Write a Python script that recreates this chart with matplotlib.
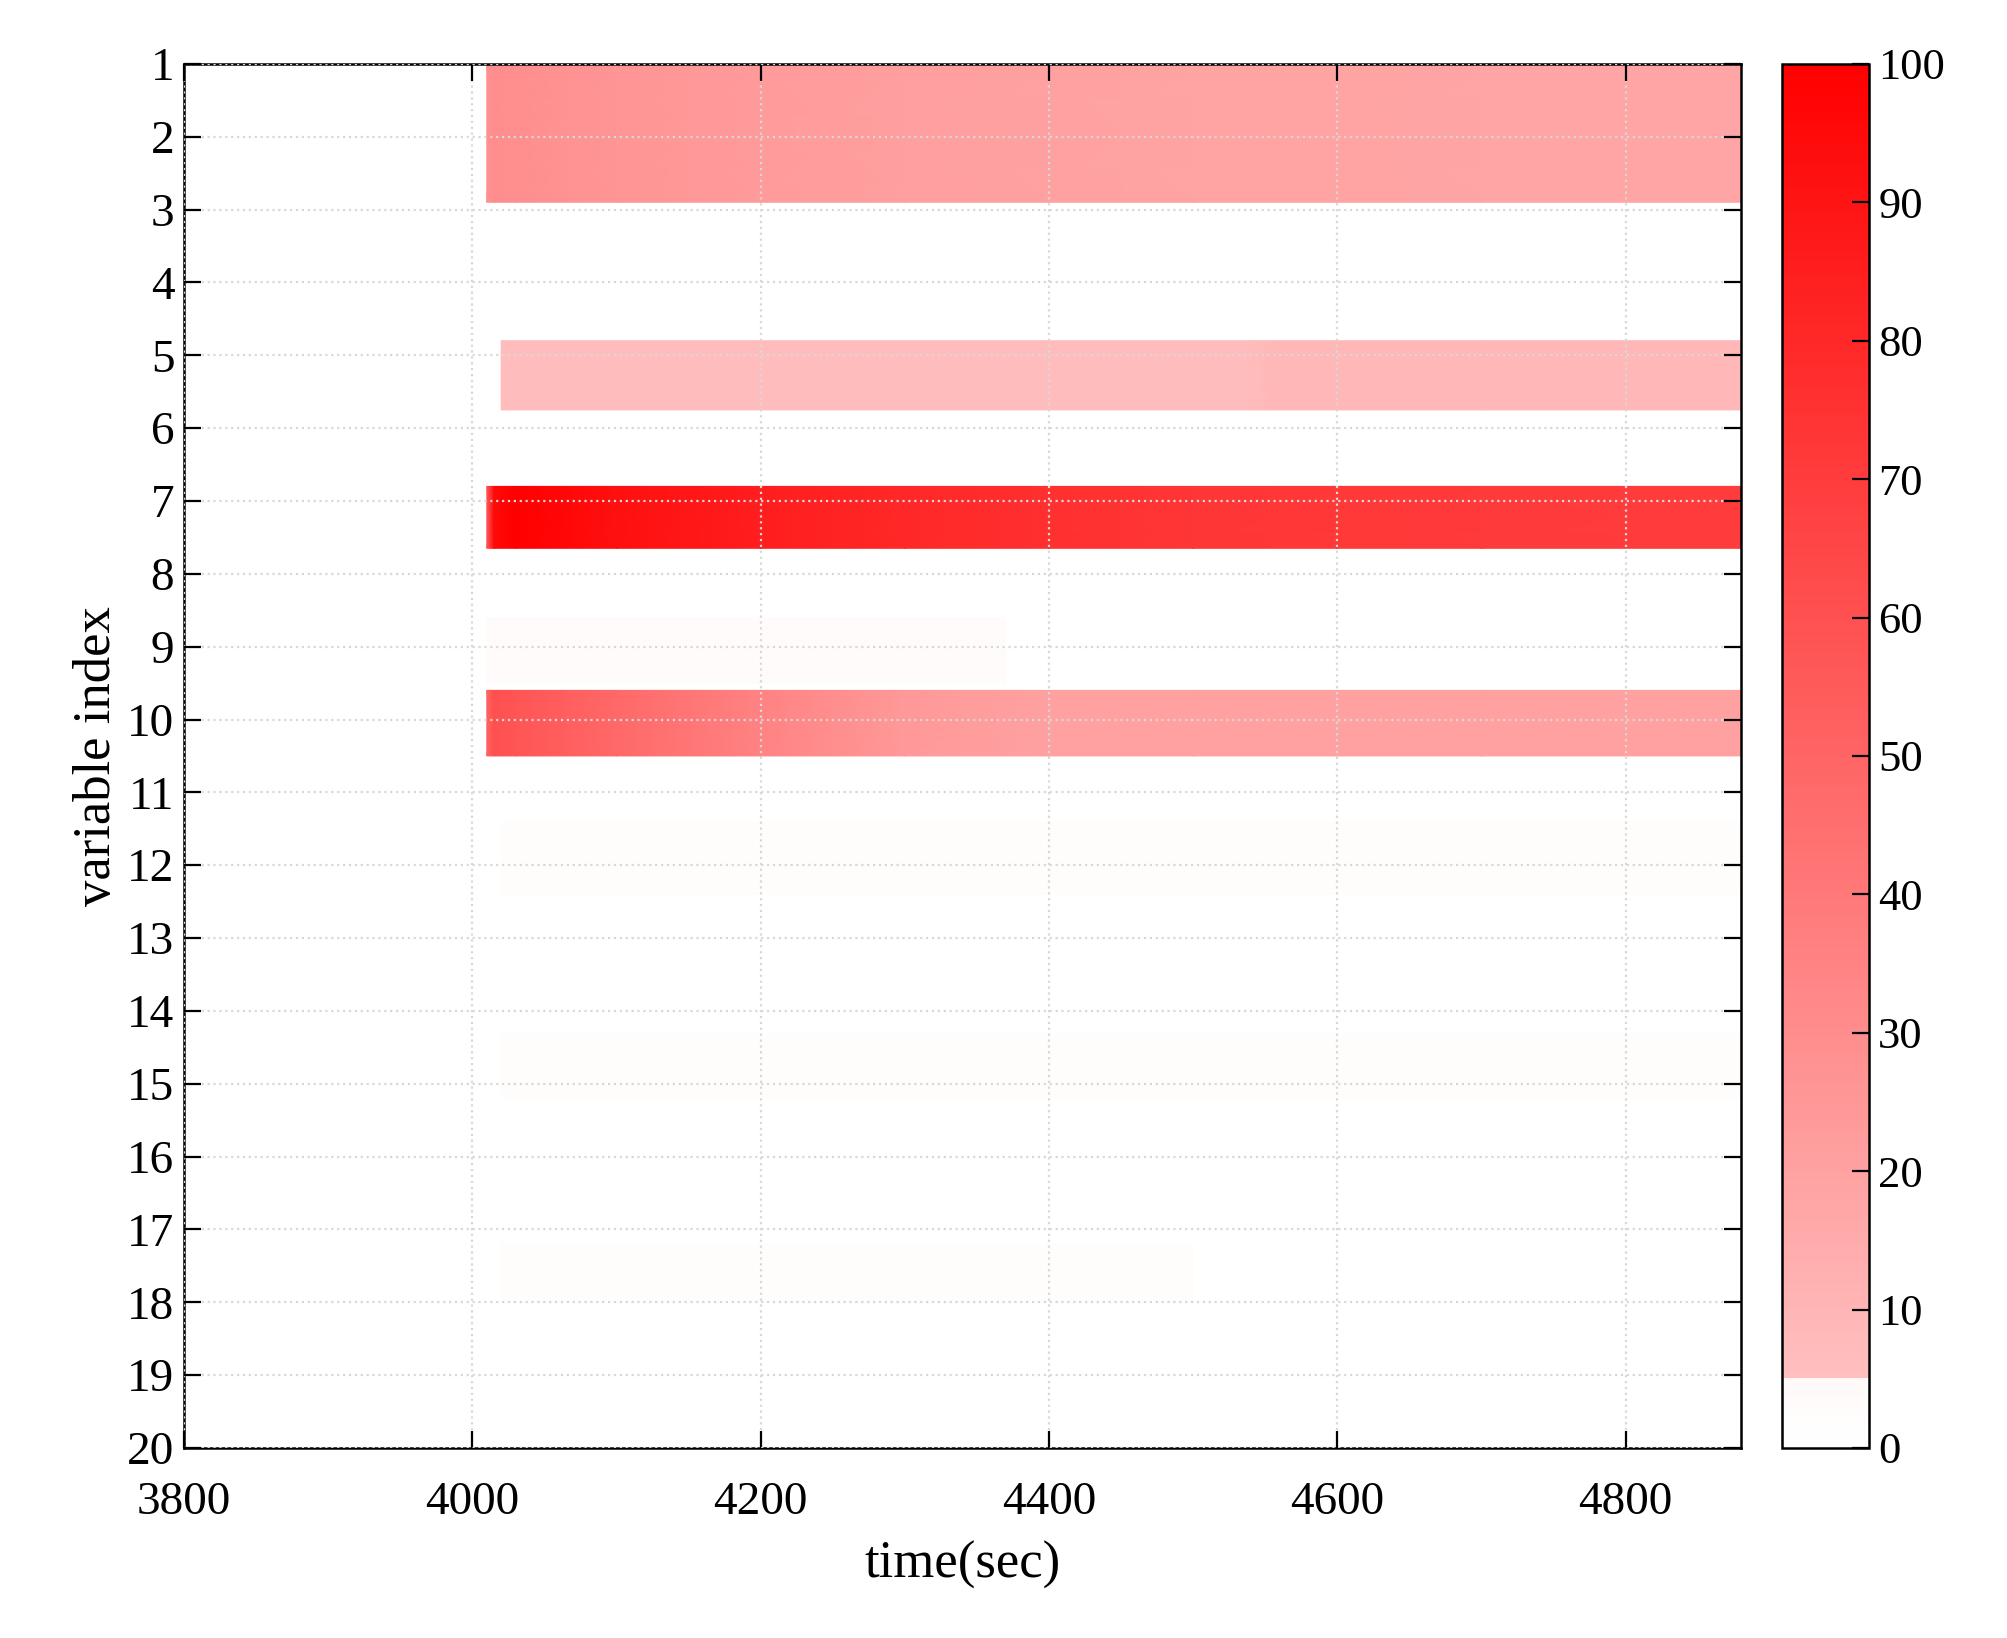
import numpy as np
import matplotlib
matplotlib.use("Agg")
import matplotlib.pyplot as plt
from matplotlib.colors import LinearSegmentedColormap

plt.rcParams["font.family"] = ["Liberation Serif", "DejaVu Serif"]
plt.rcParams["mathtext.fontset"] = "stix"

# band data: (y_top, y_bottom, times, values)
t_main = [4010, 4015, 4030, 4100, 4200, 4300, 4400, 4500, 4600, 4700, 4880]
band1_vals = [28, 30, 29, 26, 23, 21, 20, 19, 19, 18, 18]
band7_vals = [55, 95, 100, 92, 85, 80, 76, 73, 72, 71, 70]
band10_vals = [50, 60, 58, 48, 35, 24, 20, 20, 20, 20, 20]
t_band5 = [4020, 4200, 4400, 4540, 4560, 4700, 4880]
band5_vals = [7, 7, 7, 7, 9, 9, 9]
t_faint9 = [4010, 4370]
faint9_vals = [3.0, 3.0]
t_faint = [4020, 4880]
faint12_vals = [2.5, 2.5]
faint15_vals = [2.5, 2.5]
t_faint18 = [4020, 4500]
faint18_vals = [2.5, 2.5]

bands = [
    (1.0, 2.9, t_main, band1_vals),
    (4.8, 5.75, t_band5, band5_vals),
    (6.8, 7.65, t_main, band7_vals),
    (8.6, 9.5, t_faint9, faint9_vals),
    (9.6, 10.5, t_main, band10_vals),
    (11.4, 12.4, t_faint, faint12_vals),
    (14.3, 15.2, t_faint, faint15_vals),
    (17.2, 18.0, t_faint18, faint18_vals),
]

cmap = LinearSegmentedColormap.from_list(
    "wr", [(0.0, (1, 1, 1)), (0.05, (1, 0.975, 0.975)), (0.0501, (1, 0.75, 0.75)),
           (1.0, (1, 0, 0))], N=512)

fig = plt.figure(figsize=(10.035, 8.19), dpi=200)
ax = fig.add_axes([0.0917, 0.116, 0.7757, 0.845])
cax = fig.add_axes([0.888, 0.116, 0.043, 0.845])

mesh = None
for y0, y1, tt, vv in bands:
    X, Y = np.meshgrid(tt, [y0, y1])
    C = np.vstack([vv, vv]).astype(float)
    mesh = ax.pcolormesh(X, Y, C, cmap=cmap, vmin=0, vmax=100, shading="gouraud")

ax.set_xlim(3800, 4880)
ax.set_ylim(20, 1)
ax.set_xticks(np.arange(3800, 4801, 200))
ax.set_yticks(np.arange(1, 21))
ax.grid(True, linestyle=":", color="#d8d8d8", linewidth=0.8)
ax.set_axisbelow(False)
ax.tick_params(direction="in", top=True, right=True, labelsize=17, length=6)
ax.tick_params(axis="x", pad=12)
ax.set_xlabel("time(sec)", fontsize=19, labelpad=6)
ax.set_ylabel("variable index", fontsize=19, labelpad=2)
for s in ax.spines.values():
    s.set_linewidth(0.9)

cb = fig.colorbar(mesh, cax=cax, ticks=np.arange(0, 101, 10))
cb.ax.tick_params(direction="in", labelsize=16, length=6)
cb.outline.set_linewidth(0.9)

fig.savefig("out.png", dpi=200)
